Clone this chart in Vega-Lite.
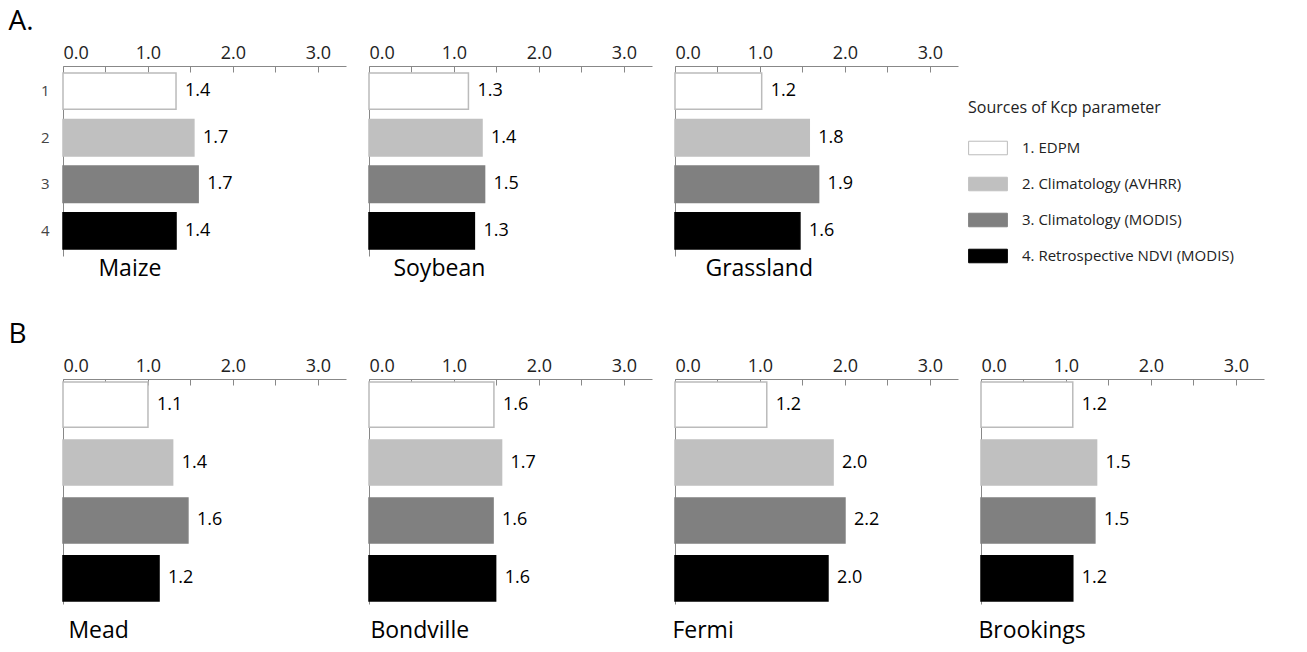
{
"$schema":"https://vega.github.io/schema/vega-lite/v6.json",
"padding":{"left":8,"top":8,"right":5,"bottom":5},
"config":{"font":"Open Sans","view":{"stroke":null},"concat":{"spacing":0},
 "axis":{"labelFont":"Open Sans","labelColor":"#222","domainColor":"#888","tickColor":"#888"}},
"datasets":{"d":[
{"panel":"Maize","source":"1. EDPM","k":"1","value":1.33,"label":"1.4"},
{"panel":"Maize","source":"2. Climatology (AVHRR)","k":"2","value":1.54,"label":"1.7"},
{"panel":"Maize","source":"3. Climatology (MODIS)","k":"3","value":1.59,"label":"1.7"},
{"panel":"Maize","source":"4. Retrospective NDVI (MODIS)","k":"4","value":1.33,"label":"1.4"},
{"panel":"Soybean","source":"1. EDPM","k":"1","value":1.17,"label":"1.3"},
{"panel":"Soybean","source":"2. Climatology (AVHRR)","k":"2","value":1.33,"label":"1.4"},
{"panel":"Soybean","source":"3. Climatology (MODIS)","k":"3","value":1.36,"label":"1.5"},
{"panel":"Soybean","source":"4. Retrospective NDVI (MODIS)","k":"4","value":1.24,"label":"1.3"},
{"panel":"Grassland","source":"1. EDPM","k":"1","value":1.02,"label":"1.2"},
{"panel":"Grassland","source":"2. Climatology (AVHRR)","k":"2","value":1.58,"label":"1.8"},
{"panel":"Grassland","source":"3. Climatology (MODIS)","k":"3","value":1.69,"label":"1.9"},
{"panel":"Grassland","source":"4. Retrospective NDVI (MODIS)","k":"4","value":1.47,"label":"1.6"},
{"panel":"Mead","source":"1. EDPM","k":"1","value":1.0,"label":"1.1"},
{"panel":"Mead","source":"2. Climatology (AVHRR)","k":"2","value":1.29,"label":"1.4"},
{"panel":"Mead","source":"3. Climatology (MODIS)","k":"3","value":1.47,"label":"1.6"},
{"panel":"Mead","source":"4. Retrospective NDVI (MODIS)","k":"4","value":1.13,"label":"1.2"},
{"panel":"Bondville","source":"1. EDPM","k":"1","value":1.47,"label":"1.6"},
{"panel":"Bondville","source":"2. Climatology (AVHRR)","k":"2","value":1.56,"label":"1.7"},
{"panel":"Bondville","source":"3. Climatology (MODIS)","k":"3","value":1.46,"label":"1.6"},
{"panel":"Bondville","source":"4. Retrospective NDVI (MODIS)","k":"4","value":1.49,"label":"1.6"},
{"panel":"Fermi","source":"1. EDPM","k":"1","value":1.08,"label":"1.2"},
{"panel":"Fermi","source":"2. Climatology (AVHRR)","k":"2","value":1.86,"label":"2.0"},
{"panel":"Fermi","source":"3. Climatology (MODIS)","k":"3","value":2.0,"label":"2.2"},
{"panel":"Fermi","source":"4. Retrospective NDVI (MODIS)","k":"4","value":1.8,"label":"2.0"},
{"panel":"Brookings","source":"1. EDPM","k":"1","value":1.08,"label":"1.2"},
{"panel":"Brookings","source":"2. Climatology (AVHRR)","k":"2","value":1.36,"label":"1.5"},
{"panel":"Brookings","source":"3. Climatology (MODIS)","k":"3","value":1.34,"label":"1.5"},
{"panel":"Brookings","source":"4. Retrospective NDVI (MODIS)","k":"4","value":1.08,"label":"1.2"}
]},
"resolve":{"scale":{"color":"independent","stroke":"independent"},"legend":{"color":"independent"}},
"spacing":40,
"vconcat":[
{"title":{"text":"A.","anchor":"start","fontSize":28,"fontWeight":"normal","offset":8,"dx":-32},
 "resolve":{"scale":{"color":"independent","stroke":"independent"},"legend":{"color":"independent"}},
 "hconcat":[
  {"data":{"name":"d"},"transform":[{"filter":"datum.panel=='Maize'"}],"width":283,"height":190,
   "title":{"text":"Maize","orient":"bottom","anchor":"start","fontSize":23,"fontWeight":"normal","dx":58,"offset":2},
   "encoding":{"y":{"field":"k","type":"nominal","scale":{"paddingInner":0.22,"paddingOuter":0.15},"axis":{"title":null,"ticks":false,"labelFontSize":15,"labelPadding":14,"labelColor":"#444"}}},
   "layer":[
    {"mark":{"type":"bar","strokeWidth":1.5},"encoding":{"x":{"field":"value","type":"quantitative","scale":{"domain":[0,3.33],"nice":false},"axis":{"orient":"top","title":null,"values":[0,0.5,1,1.5,2,2.5,3],"labelExpr":"datum.value % 1 == 0 ? format(datum.value,'.1f') : ''","labelFontSize":18,"tickSize":-6,"labelPadding":10,"grid":false}},
     "color":{"field":"source","type":"nominal","scale":{"range":["#ffffff","#c0c0c0","#808080","#000000"]},"legend":null},
     "stroke":{"field":"source","type":"nominal","scale":{"range":["#bbbbbb","#c0c0c0","#808080","#000000"]},"legend":null}}},
    {"mark":{"type":"text","align":"left","dx":9,"fontSize":18,"baseline":"middle"},"encoding":{"x":{"field":"value","type":"quantitative"},"text":{"field":"label"}}}
   ]},
  {"data":{"name":"d"},"transform":[{"filter":"datum.panel=='Soybean'"}],"width":283,"height":190,
   "title":{"text":"Soybean","orient":"bottom","anchor":"start","fontSize":23,"fontWeight":"normal","dx":47,"offset":2},
   "encoding":{"y":{"field":"k","type":"nominal","scale":{"paddingInner":0.22,"paddingOuter":0.15},"axis":{"title":null,"ticks":false,"labelFontSize":15,"labelPadding":14,"labelColor":"transparent"}}},
   "layer":[
    {"mark":{"type":"bar","strokeWidth":1.5},"encoding":{"x":{"field":"value","type":"quantitative","scale":{"domain":[0,3.33],"nice":false},"axis":{"orient":"top","title":null,"values":[0,0.5,1,1.5,2,2.5,3],"labelExpr":"datum.value % 1 == 0 ? format(datum.value,'.1f') : ''","labelFontSize":18,"tickSize":-6,"labelPadding":10,"grid":false}},
     "color":{"field":"source","type":"nominal","scale":{"range":["#ffffff","#c0c0c0","#808080","#000000"]},"legend":null},
     "stroke":{"field":"source","type":"nominal","scale":{"range":["#bbbbbb","#c0c0c0","#808080","#000000"]},"legend":null}}},
    {"mark":{"type":"text","align":"left","dx":9,"fontSize":18,"baseline":"middle"},"encoding":{"x":{"field":"value","type":"quantitative"},"text":{"field":"label"}}}
   ]},
  {"data":{"name":"d"},"transform":[{"filter":"datum.panel=='Grassland'"}],"width":283,"height":190,
   "title":{"text":"Grassland","orient":"bottom","anchor":"start","fontSize":23,"fontWeight":"normal","dx":53,"offset":-7},
   "encoding":{"y":{"field":"k","type":"nominal","scale":{"paddingInner":0.22,"paddingOuter":0.15},"axis":{"title":null,"ticks":false,"labelFontSize":15,"labelPadding":14,"labelColor":"transparent"}}},
   "layer":[
    {"mark":{"type":"bar","strokeWidth":1.5},"encoding":{"x":{"field":"value","type":"quantitative","scale":{"domain":[0,3.33],"nice":false},"axis":{"orient":"top","title":null,"values":[0,0.5,1,1.5,2,2.5,3],"labelExpr":"datum.value % 1 == 0 ? format(datum.value,'.1f') : ''","labelFontSize":18,"tickSize":-6,"labelPadding":10,"grid":false}},
     "color":{"field":"source","type":"nominal","scale":{"range":["#ffffff","#c0c0c0","#808080","#000000"]},
       "legend":{"orient":"none","legendX":293,"legendY":34,"title":"Sources of Kcp parameter","titleFontSize":16,"titleFontWeight":"normal","titleFont":"Open Sans","titleColor":"#222","titleLimit":400,"labelLimit":400,"labelFontSize":15,"labelFont":"Open Sans","labelColor":"#222","symbolType":"M-1,-0.35H1V0.35H-1Z","symbolSize":1500,"symbolStrokeColor":"#aaaaaa","symbolStrokeWidth":1,"rowPadding":7,"titlePadding":12,"labelOffset":14,"symbolOpacity":1}},
     "stroke":{"field":"source","type":"nominal","scale":{"range":["#bbbbbb","#c0c0c0","#808080","#000000"]},"legend":null}}},
    {"mark":{"type":"text","align":"left","dx":9,"fontSize":18,"baseline":"middle"},"encoding":{"x":{"field":"value","type":"quantitative"},"text":{"field":"label"}}}
   ]}
 ]},
{"title":{"text":"B","anchor":"start","fontSize":28,"fontWeight":"normal","offset":8,"dx":-32},
 "hconcat":[
  {"data":{"name":"d"},"transform":[{"filter":"datum.panel=='Mead'"}],"width":283,"height":225,
   "title":{"text":"Mead","orient":"bottom","anchor":"start","fontSize":23,"fontWeight":"normal","dx":28,"offset":16},
   "encoding":{"y":{"field":"k","type":"nominal","scale":{"paddingInner":0.22,"paddingOuter":0.05},"axis":{"title":null,"ticks":false,"labelFontSize":15,"labelPadding":14,"labelColor":"transparent"}}},
   "layer":[
    {"mark":{"type":"bar","strokeWidth":1.5},"encoding":{"x":{"field":"value","type":"quantitative","scale":{"domain":[0,3.33],"nice":false},"axis":{"orient":"top","title":null,"values":[0,0.5,1,1.5,2,2.5,3],"labelExpr":"datum.value % 1 == 0 ? format(datum.value,'.1f') : ''","labelFontSize":18,"tickSize":-6,"labelPadding":10,"grid":false}},
     "color":{"field":"source","type":"nominal","scale":{"range":["#ffffff","#c0c0c0","#808080","#000000"]},"legend":null},
     "stroke":{"field":"source","type":"nominal","scale":{"range":["#bbbbbb","#c0c0c0","#808080","#000000"]},"legend":null}}},
    {"mark":{"type":"text","align":"left","dx":9,"fontSize":18,"baseline":"middle"},"encoding":{"x":{"field":"value","type":"quantitative"},"text":{"field":"label"}}}
   ]},
  {"data":{"name":"d"},"transform":[{"filter":"datum.panel=='Bondville'"}],"width":283,"height":225,
   "title":{"text":"Bondville","orient":"bottom","anchor":"start","fontSize":23,"fontWeight":"normal","dx":24,"offset":16},
   "encoding":{"y":{"field":"k","type":"nominal","scale":{"paddingInner":0.22,"paddingOuter":0.05},"axis":{"title":null,"ticks":false,"labelFontSize":15,"labelPadding":14,"labelColor":"transparent"}}},
   "layer":[
    {"mark":{"type":"bar","strokeWidth":1.5},"encoding":{"x":{"field":"value","type":"quantitative","scale":{"domain":[0,3.33],"nice":false},"axis":{"orient":"top","title":null,"values":[0,0.5,1,1.5,2,2.5,3],"labelExpr":"datum.value % 1 == 0 ? format(datum.value,'.1f') : ''","labelFontSize":18,"tickSize":-6,"labelPadding":10,"grid":false}},
     "color":{"field":"source","type":"nominal","scale":{"range":["#ffffff","#c0c0c0","#808080","#000000"]},"legend":null},
     "stroke":{"field":"source","type":"nominal","scale":{"range":["#bbbbbb","#c0c0c0","#808080","#000000"]},"legend":null}}},
    {"mark":{"type":"text","align":"left","dx":9,"fontSize":18,"baseline":"middle"},"encoding":{"x":{"field":"value","type":"quantitative"},"text":{"field":"label"}}}
   ]},
  {"data":{"name":"d"},"transform":[{"filter":"datum.panel=='Fermi'"}],"width":283,"height":225,
   "title":{"text":"Fermi","orient":"bottom","anchor":"start","fontSize":23,"fontWeight":"normal","dx":20,"offset":16},
   "encoding":{"y":{"field":"k","type":"nominal","scale":{"paddingInner":0.22,"paddingOuter":0.05},"axis":{"title":null,"ticks":false,"labelFontSize":15,"labelPadding":14,"labelColor":"transparent"}}},
   "layer":[
    {"mark":{"type":"bar","strokeWidth":1.5},"encoding":{"x":{"field":"value","type":"quantitative","scale":{"domain":[0,3.33],"nice":false},"axis":{"orient":"top","title":null,"values":[0,0.5,1,1.5,2,2.5,3],"labelExpr":"datum.value % 1 == 0 ? format(datum.value,'.1f') : ''","labelFontSize":18,"tickSize":-6,"labelPadding":10,"grid":false}},
     "color":{"field":"source","type":"nominal","scale":{"range":["#ffffff","#c0c0c0","#808080","#000000"]},"legend":null},
     "stroke":{"field":"source","type":"nominal","scale":{"range":["#bbbbbb","#c0c0c0","#808080","#000000"]},"legend":null}}},
    {"mark":{"type":"text","align":"left","dx":9,"fontSize":18,"baseline":"middle"},"encoding":{"x":{"field":"value","type":"quantitative"},"text":{"field":"label"}}}
   ]},
  {"data":{"name":"d"},"transform":[{"filter":"datum.panel=='Brookings'"}],"width":283,"height":225,
   "title":{"text":"Brookings","orient":"bottom","anchor":"start","fontSize":23,"fontWeight":"normal","dx":20,"offset":16},
   "encoding":{"y":{"field":"k","type":"nominal","scale":{"paddingInner":0.22,"paddingOuter":0.05},"axis":{"title":null,"ticks":false,"labelFontSize":15,"labelPadding":14,"labelColor":"transparent"}}},
   "layer":[
    {"mark":{"type":"bar","strokeWidth":1.5},"encoding":{"x":{"field":"value","type":"quantitative","scale":{"domain":[0,3.33],"nice":false},"axis":{"orient":"top","title":null,"values":[0,0.5,1,1.5,2,2.5,3],"labelExpr":"datum.value % 1 == 0 ? format(datum.value,'.1f') : ''","labelFontSize":18,"tickSize":-6,"labelPadding":10,"grid":false}},
     "color":{"field":"source","type":"nominal","scale":{"range":["#ffffff","#c0c0c0","#808080","#000000"]},"legend":null},
     "stroke":{"field":"source","type":"nominal","scale":{"range":["#bbbbbb","#c0c0c0","#808080","#000000"]},"legend":null}}},
    {"mark":{"type":"text","align":"left","dx":9,"fontSize":18,"baseline":"middle"},"encoding":{"x":{"field":"value","type":"quantitative"},"text":{"field":"label"}}}
   ]}
 ]}
]}
